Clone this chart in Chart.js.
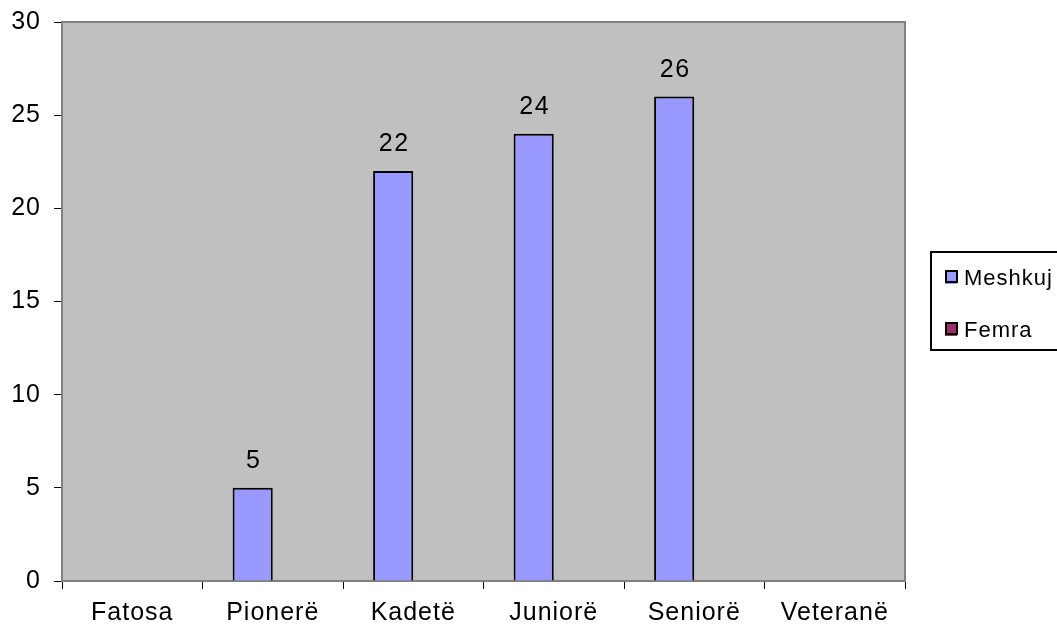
<!DOCTYPE html>
<html>
<head>
<meta charset="utf-8">
<script src="https://cdn.jsdelivr.net/npm/chart.js@4"></script>
<style>
  html, body { margin: 0; padding: 0; background: #fff; }
  #wrap { width: 1057px; height: 629px; }
</style>
</head>
<body>
<div id="wrap"><canvas id="chart" width="1057" height="629"></canvas></div>
<script>
"use strict";

const categories = ["Fatosa", "Pionerë", "Kadetë", "Juniorë", "Seniorë", "Veteranë"];
const meshkuj = [null, 5, 22, 24, 26, null];
const femra = [null, null, null, null, null, null];
const yTicks = [0, 5, 10, 15, 20, 25, 30];

const FONT = "'Liberation Sans', Arial, sans-serif";
const SPACE = "1px";

// Excel-like letter spacing on all text
const spacing = {
  id: "spacing",
  beforeLayout(chart) { chart.ctx.letterSpacing = SPACE; },
  beforeDraw(chart) { chart.ctx.letterSpacing = SPACE; }
};

// grey plot area with thin grey frame
const plotBg = {
  id: "plotBg",
  beforeDatasetsDraw(chart) {
    const { ctx, chartArea: a } = chart;
    ctx.save();
    ctx.fillStyle = "#c0c0c0";
    ctx.fillRect(a.left, a.top, a.right - a.left, a.bottom - a.top);
    ctx.strokeStyle = "#808080";
    ctx.lineWidth = 2;
    ctx.strokeRect(a.left, a.top, a.right - a.left, a.bottom - a.top);
    ctx.restore();
  }
};

// value labels above the bars
const valueLabels = {
  id: "valueLabels",
  afterDatasetsDraw(chart) {
    const ctx = chart.ctx;
    const meta = chart.getDatasetMeta(0);
    ctx.save();
    ctx.letterSpacing = "1.5px";
    ctx.font = "25px " + FONT;
    ctx.fillStyle = "#000";
    ctx.textAlign = "center";
    ctx.textBaseline = "alphabetic";
    meta.data.forEach((bar, i) => {
      const v = chart.data.datasets[0].data[i];
      if (v == null) return;
      ctx.fillText(String(v), bar.x + 1, bar.y - 20);
    });
    ctx.restore();
  }
};

// boxed legend on the right
const boxLegend = {
  id: "boxLegend",
  afterDraw(chart) {
    const ctx = chart.ctx;
    const x = 931, y = 252, w = 140, h = 98;
    ctx.save();
    ctx.fillStyle = "#fff";
    ctx.fillRect(x, y, w, h);
    ctx.strokeStyle = "#000";
    ctx.lineWidth = 2;
    ctx.strokeRect(x, y, w, h);
    ctx.font = "22px " + FONT;
    ctx.letterSpacing = "1px";
    ctx.textBaseline = "middle";
    ctx.textAlign = "left";
    chart.data.datasets.forEach((ds, i) => {
      const cy = 278 + i * 52;
      ctx.fillStyle = ds.backgroundColor;
      ctx.fillRect(945, cy - 6, 12, 12);
      ctx.strokeStyle = "#000";
      ctx.lineWidth = 2;
      ctx.strokeRect(946, cy - 7, 11, 11);
      ctx.fillStyle = "#000";
      ctx.fillText(ds.label, 964, cy + 1);
    });
    ctx.restore();
  }
};

new Chart(document.getElementById("chart"), {
  type: "bar",
  data: {
    labels: categories,
    datasets: [
      {
        label: "Meshkuj",
        data: meshkuj,
        backgroundColor: "#9999ff",
        borderColor: "#000",
        borderWidth: 2,
        borderSkipped: "bottom"
      },
      {
        label: "Femra",
        data: femra,
        backgroundColor: "#993366",
        borderColor: "#000",
        borderWidth: 2
      }
    ]
  },
  options: {
    responsive: false,
    animation: false,
    layout: { padding: { top: 22, right: 152, left: 0, bottom: 0 } },
    datasets: {
      bar: { categoryPercentage: 2 / 3.5, barPercentage: 1, grouped: true }
    },
    plugins: {
      legend: { display: false },
      tooltip: { enabled: false }
    },
    scales: {
      x: {
        offset: true,
        border: { display: true, color: "#000", width: 2 },
        grid: { display: true, offset: true, drawOnChartArea: false, drawTicks: true, tickLength: 8, color: "#000", lineWidth: 1 },
        ticks: { color: "#000", font: { family: FONT, size: 25 }, padding: 9, maxRotation: 0 },
        afterFit(scale) { scale.height = 48; scale.paddingLeft = 0; scale.paddingRight = 0; }
      },
      y: {
        min: 0,
        max: 30,
        border: { display: true, color: "#000", width: 2 },
        grid: { display: true, drawOnChartArea: false, drawTicks: true, tickLength: 8, color: "#000", lineWidth: 1 },
        afterBuildTicks(scale) { scale.ticks = yTicks.map(v => ({ value: v })); },
        ticks: { color: "#000", font: { family: FONT, size: 25 }, padding: 13 },
        afterFit(scale) { scale.width = 62; scale.paddingTop = 0; scale.paddingBottom = 0; }
      }
    }
  },
  plugins: [spacing, plotBg, valueLabels, boxLegend]
});
</script>
</body>
</html>
